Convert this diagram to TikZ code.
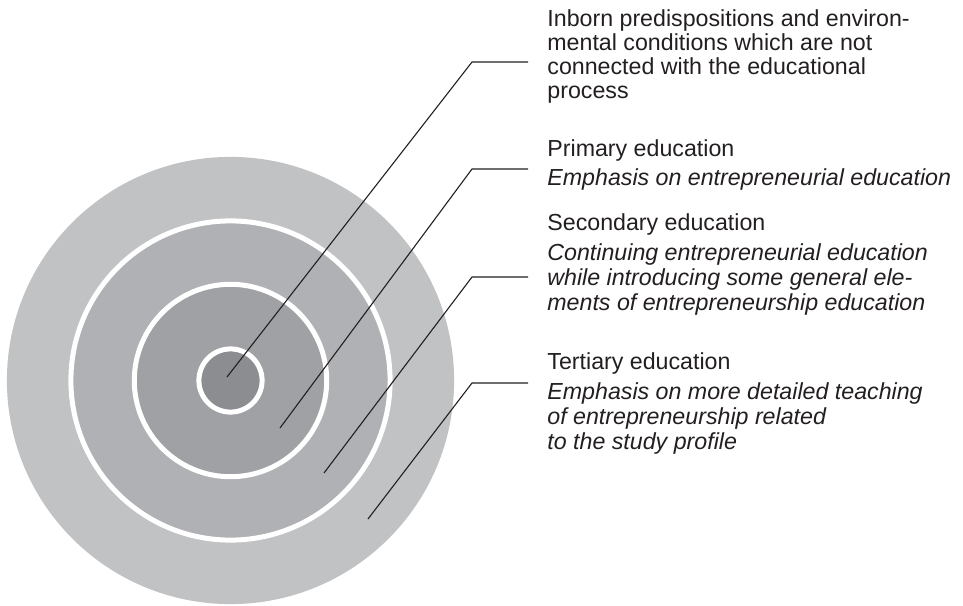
\documentclass[tikz,border=0pt]{standalone}
\usepackage{fontspec}
\setmainfont{Liberation Sans}
\usetikzlibrary{positioning}
\definecolor{ringout}{HTML}{C1C2C4}
\definecolor{ringtwo}{HTML}{B0B1B4}
\definecolor{ringthree}{HTML}{A0A1A5}
\definecolor{ringin}{HTML}{8C8D91}
\definecolor{txtgrey}{HTML}{231F20}

\begin{document}
\begin{tikzpicture}[x=0.5pt,y=-0.5pt,
	ring/.style={draw=white,line width=2.5pt},
	label text/.style={anchor=north west,inner sep=0pt,align=left,text=txtgrey,
		font=\fontsize{11.6}{12.5}\selectfont},
	leader/.style={line width=0.55pt,txtgrey}]
	\useasboundingbox (0,0) rectangle (963,605);
	\coordinate (c) at (230.5,380.5);
	\fill[ringout] (c) circle [radius=111.8pt];
	\filldraw[ringtwo,ring] (c) circle [radius=79.8pt];
	\filldraw[ringthree,ring] (c) circle [radius=48.1pt];
	\filldraw[ringin,ring] (c) circle [radius=15.8pt];
	\node (inborn)[label text,font=\fontsize{11.6}{12}\selectfont] at (547,9)
		{Inborn predispositions and environ-\\mental conditions which are not\\connected with the educational\\process};
	\node (primary)[label text] at (547,139)
		{Primary education\\[2pt]\textit{Emphasis on entrepreneurial education}};
	\node (secondary)[label text] at (547,213)
		{Secondary education\\[2.5pt]\textit{Continuing entrepreneurial education}\\
		\textit{while introducing some general ele-}\\\textit{ments of entrepreneurship education}};
	\node (tertiary)[label text] at (547,352)
		{Tertiary education\\[2.5pt]\textit{Emphasis on more detailed teaching}\\
		\textit{of entrepreneurship related}\\\textit{to the study profile}};
	% leader lines: tip in the ring, knee, end before the text
	\coordinate (t1) at (227,377);  \coordinate (k1) at (472,62);  \coordinate (e1) at (528,62);
	\coordinate (t2) at (280,428);  \coordinate (k2) at (472,169); \coordinate (e2) at (528,169);
	\coordinate (t3) at (324,473);  \coordinate (k3) at (472,277); \coordinate (e3) at (528,277);
	\coordinate (t4) at (368,519);  \coordinate (k4) at (472,383); \coordinate (e4) at (528,383);
	\draw[leader] (t1)--(k1)--(e1);
	\draw[leader] (t2)--(k2)--(e2);
	\draw[leader] (t3)--(k3)--(e3);
	\draw[leader] (t4)--(k4)--(e4);
\end{tikzpicture}
\end{document}
